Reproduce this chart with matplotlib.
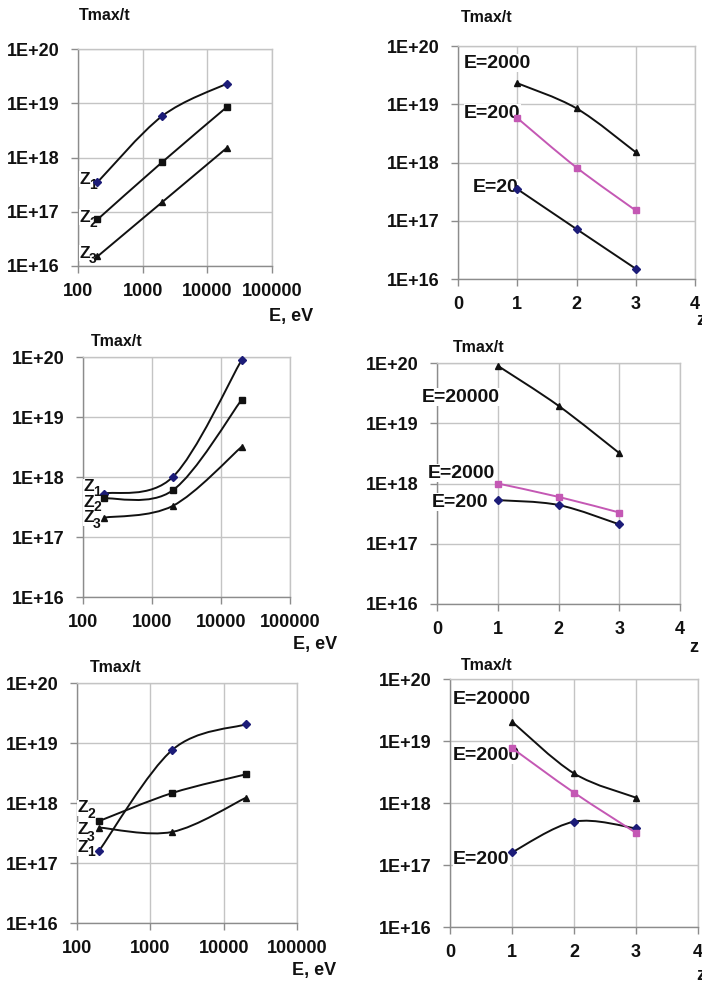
import numpy as np
import matplotlib
matplotlib.use("Agg")
import matplotlib.pyplot as plt
from matplotlib.path import Path
from matplotlib.patches import PathPatch
from matplotlib.ticker import FixedLocator, FuncFormatter, NullLocator

plt.rcParams['font.family'] = ['Liberation Sans', 'DejaVu Sans']
plt.rcParams['font.weight'] = 'bold'

# ---- data -------------------------------------------------------------
energies = [200, 2000, 20000]          # E, eV
charges = [1, 2, 3]                     # z

# Tmax/t for Z1, Z2, Z3 (rows) versus energy (columns)
top_z1 = [3.5e17, 5.8e18, 2.3e19]
top_z2 = [7.2e16, 8.2e17, 8.5e18]
top_z3 = [1.5e16, 1.5e17, 1.5e18]

mid_z1 = [5.3e17, 1.0e18, 9.0e19]
mid_z2 = [4.4e17, 6.0e17, 1.95e19]
mid_z3 = [2.1e17, 3.3e17, 3.2e18]

bot_z1 = [1.6e17, 7.7e18, 2.05e19]
bot_z2 = [5.0e17, 1.47e18, 3.0e18]
bot_z3 = [3.9e17, 3.3e17, 1.22e18]

top_e_labels = ["E=20", "E=200", "E=2000"]
mid_e_labels = ["E=200", "E=2000", "E=20000"]
bot_e_labels = ["E=200", "E=2000", "E=20000"]

y_ticks = [1e16, 1e17, 1e18, 1e19, 1e20]
e_ticks = [100, 1000, 10000, 100000]
z_ticks = [0, 1, 2, 3, 4]

# ---- style ------------------------------------------------------------
W, H = 702, 981
NAVY = '#1c1c78'
MAGENTA = '#c458b4'
INK = '#111111'
GRID = '#c4c4c4'
SPINE = '#8c8c8c'

fig = plt.figure(figsize=(W / 100, H / 100), dpi=100)


def fx(x):
    return x / W


def fy(y):
    return 1 - y / H


def make_axes(l, r, t, b):
    ax = fig.add_axes([fx(l), fy(b), fx(r - l), (b - t) / H])
    ax.set_yscale('log')
    ax.set_ylim(1e16, 1e20)
    ax.yaxis.set_major_locator(FixedLocator(y_ticks))
    ax.yaxis.set_minor_locator(NullLocator())
    ax.yaxis.set_major_formatter(
        FuncFormatter(lambda v, p: "1E+%d" % int(round(np.log10(v)))))
    ax.grid(True, color=GRID, lw=1.0)
    ax.set_axisbelow(True)
    for s in ax.spines.values():
        s.set_color(GRID)
        s.set_linewidth(1.0)
    ax.spines['left'].set_color(SPINE)
    ax.spines['bottom'].set_color(SPINE)
    ax.tick_params(axis='both', which='major', direction='out', length=5,
                   width=1, color=SPINE, labelsize=13, labelcolor=INK)
    ax.tick_params(axis='y', pad=8)
    ax.tick_params(axis='x', pad=7)
    for lab in ax.get_xticklabels() + ax.get_yticklabels():
        lab.set_fontweight('bold')
    return ax


def smooth_curve(ax, xs, ys, color, logx):
    """Smoothed line through the points (cubic Bezier, Catmull-Rom tangents
    computed in the axes' own log/linear space)."""
    u = np.log10(xs) if logx else np.asarray(xs, float)
    v = np.log10(ys)
    P = np.column_stack([u, v])
    n = len(P)
    verts = [P[0]]
    codes = [Path.MOVETO]
    for i in range(n - 1):
        p0 = P[i - 1] if i > 0 else P[i]
        p1, p2 = P[i], P[i + 1]
        p3 = P[i + 2] if i + 2 < n else P[i + 1]
        c1 = p1 + (p2 - p0) / 6.0
        c2 = p2 - (p3 - p1) / 6.0
        verts += [c1, c2, p2]
        codes += [Path.CURVE4] * 3
    verts = np.array(verts)
    xd = 10 ** verts[:, 0] if logx else verts[:, 0]
    yd = 10 ** verts[:, 1]
    patch = PathPatch(Path(np.column_stack([xd, yd]), codes), fill=False,
                      edgecolor=color, lw=1.4, zorder=3)
    ax.add_patch(patch)


def series(ax, xs, ys, line_color, marker, mcolor, ms, logx):
    smooth_curve(ax, xs, ys, line_color, logx)
    ax.plot(xs, ys, ls='none', marker=marker, ms=ms, color=mcolor,
            mec=mcolor, zorder=4, clip_on=False)


def txt(x, y, s, size, ha='left', va='center', ax=None, bg=False):
    """Text placed in figure pixels; labels inside a chart sit between the
    frame and the data lines."""
    kw = {}
    if bg:
        kw['bbox'] = dict(facecolor='white', edgecolor='none', pad=0.3)
    host = ax if ax is not None else fig
    z = 2.7 if ax is not None else 10
    host.text(fx(x), fy(y), s, fontsize=size, fontweight='bold', color=INK,
              ha=ha, va=va, zorder=z, transform=fig.transFigure,
              clip_on=False, **kw)


def zlabel(ax, x, y, sub, dy=6):
    txt(x, y, "Z", 12.5, ax=ax, bg=True)
    txt(x + 10, y + dy, sub, 10, ax=ax)


def energy_panel(l, r, t, b, rows, zpos, title_xy, xlabel_xy):
    ax = make_axes(l, r, t, b)
    ax.set_xscale('log')
    ax.set_xlim(100, 100000)
    ax.xaxis.set_major_locator(FixedLocator(e_ticks))
    ax.xaxis.set_minor_locator(NullLocator())
    ax.xaxis.set_major_formatter(FuncFormatter(lambda v, p: "%d" % v))
    styles = [('D', NAVY, 4), ('s', INK, 4.5), ('^', INK, 4.5)]
    for ys, (m, mc, ms) in zip(rows, styles):
        series(ax, energies, ys, INK, m, mc, ms, True)
    for (x, y, dy), sub in zip(zpos, ["1", "2", "3"]):
        zlabel(ax, x, y, sub, dy)
    txt(title_xy[0], title_xy[1], "Tmax/t", 11.5)
    txt(xlabel_xy[0], xlabel_xy[1], "E, eV", 13)
    return ax


def charge_panel(l, r, t, b, rows, labels, label_pos, title_xy, zlab_xy):
    ax = make_axes(l, r, t, b)
    ax.set_xlim(0, 4)
    ax.xaxis.set_major_locator(FixedLocator(z_ticks))
    ax.xaxis.set_major_formatter(FuncFormatter(lambda v, p: "%d" % v))
    cols = np.array(rows).T  # one series per energy
    styles = [(INK, 'D', NAVY, 4), (MAGENTA, 's', MAGENTA, 4.5),
              (INK, '^', INK, 4.5)]
    for ys, (lc, m, mc, ms) in zip(cols, styles):
        series(ax, charges, ys, lc, m, mc, ms, False)
    for s, (x, y) in zip(labels, label_pos):
        txt(x, y, s, 14, ax=ax, bg=True)
    txt(title_xy[0], title_xy[1], "Tmax/t", 11.5)
    txt(zlab_xy[0], zlab_xy[1], "z", 13)
    return ax


# top row
energy_panel(78, 272, 49, 266, [top_z1, top_z2, top_z3],
             [(79, 179, 6), (79, 217, 6), (79, 253, 6)],
             (79, 16), (269, 317))
charge_panel(458, 695, 46, 279, [top_z1, top_z2, top_z3], top_e_labels,
             [(473, 188), (464, 113), (464, 63)], (461, 18), (696, 320))

# middle row
energy_panel(83, 290, 357, 597, [mid_z1, mid_z2, mid_z3],
             [(83, 487, 5), (83, 502, 5), (83, 518, 6)],
             (91, 342), (293, 645))
charge_panel(437, 680, 363, 604, [mid_z1, mid_z2, mid_z3], mid_e_labels,
             [(432, 502), (428, 473), (422, 397)], (453, 347), (689, 648))

# bottom row
energy_panel(77, 297, 683, 923, [bot_z1, bot_z2, bot_z3],
             [(77, 848, 4), (77, 808, 6), (77, 830, 7)],
             (90, 667), (292, 971))
charge_panel(450, 698, 679, 927, [bot_z1, bot_z2, bot_z3], bot_e_labels,
             [(453, 860), (453, 755), (453, 700)], (461, 665), (696, 976))

fig.savefig("out.png", dpi=100)
